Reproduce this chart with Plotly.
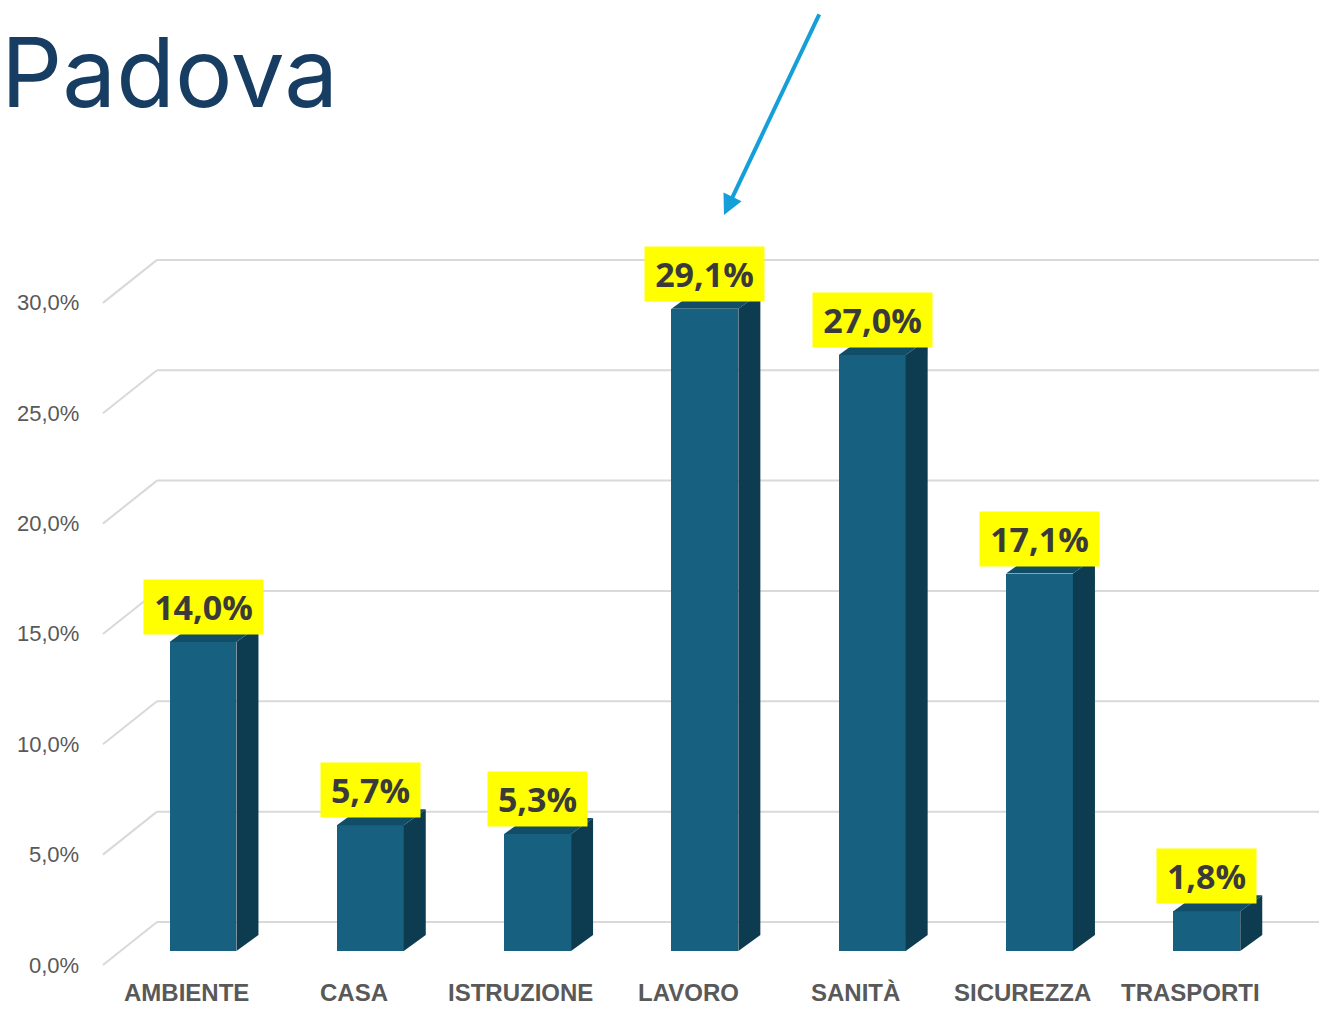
import plotly.graph_objects as go

# ---- data ----
categories = ["AMBIENTE", "CASA", "ISTRUZIONE", "LAVORO", "SANITÀ", "SICUREZZA", "TRASPORTI"]
values = [14.0, 5.7, 5.3, 29.1, 27.0, 17.1, 1.8]
value_labels = ["14,0%", "5,7%", "5,3%", "29,1%", "27,0%", "17,1%", "1,8%"]
grid_values = [0, 5, 10, 15, 20, 25, 30]
grid_labels = ["0,0%", "5,0%", "10,0%", "15,0%", "20,0%", "25,0%", "30,0%"]
title_text = "Padova"
highlight_category = "LAVORO"

# ---- style / geometry (pseudo-3D) ----
FRONT = "#17607f"
SIDE = "#0d3c50"
TOP = "#124d67"
GRID = "#d9d9d9"
TXT = "#595959"

PX_X = 167.3    # pixels per category
PX_Y = 22.07    # pixels per percent
BAR_W = 0.40    # front face width (category units)
DX = 22 / PX_X  # depth offset in x
DY = 16 / PX_Y  # depth offset in y
BACK_DY = 29 / PX_Y    # back wall offset
FRONT_DY = -14 / PX_Y  # floor front offset
DIAG_X0 = -0.598
DIAG_X1 = -0.275

x_range = [-203 / PX_X, (1319 - 203) / PX_X]
y_range = [(951 - 1009) / PX_Y, 951 / PX_Y]

fig = go.Figure()

# gridlines (back wall + diagonal side wall) as shapes below traces
for g in grid_values:
    fig.add_shape(type="line", xref="x", yref="y", layer="below",
                  x0=DIAG_X0, y0=g + FRONT_DY, x1=DIAG_X1, y1=g + BACK_DY,
                  line=dict(color=GRID, width=2))
    fig.add_shape(type="line", xref="x", yref="y", layer="below",
                  x0=DIAG_X1, y0=g + BACK_DY, x1=x_range[1], y1=g + BACK_DY,
                  line=dict(color=GRID, width=2))

idx = list(range(len(categories)))

# front faces
fig.add_trace(go.Bar(x=idx, y=values, width=BAR_W, marker=dict(color=FRONT, line=dict(width=0)),
                     hoverinfo="skip", showlegend=False))

# side and top faces
for i, v in zip(idx, values):
    xr = i + BAR_W / 2
    xl = i - BAR_W / 2
    fig.add_trace(go.Scatter(x=[xr, xr + DX, xr + DX, xr, xr], y=[0, DY, v + DY, v, 0],
                             fill="toself", fillcolor=SIDE, mode="lines", line=dict(width=0, color=SIDE),
                             hoverinfo="skip", showlegend=False))
    fig.add_trace(go.Scatter(x=[xl, xr, xr + DX, xl + DX, xl], y=[v, v, v + DY, v + DY, v],
                             fill="toself", fillcolor=TOP, mode="lines", line=dict(width=0, color=TOP),
                             hoverinfo="skip", showlegend=False))

annotations = []
# value labels
for i, v, lab in zip(idx, values, value_labels):
    annotations.append(dict(x=i, y=v + 35 / PX_Y, xref="x", yref="y", text="<b>" + lab + "</b>",
                            showarrow=False, bgcolor="#ffff00", borderpad=4,
                            width=20 * len(lab) + 11,
                            font=dict(family="Open Sans", size=34, color="#3a3a3a"),
                            xanchor="center", yanchor="middle"))
# y tick labels
for g, lab in zip(grid_values, grid_labels):
    annotations.append(dict(x=DIAG_X0, y=g + FRONT_DY, xref="x", yref="y", text=lab,
                            showarrow=False, xanchor="right", yanchor="middle", xshift=-22,
                            font=dict(family="Liberation Sans, Arial", size=22, color=TXT)))
# category labels
for i, c in zip(idx, categories):
    annotations.append(dict(x=i - 0.1, y=(951 - 1008) / PX_Y, xref="x", yref="y", text="<b>" + c + "</b>",
                            showarrow=False, xanchor="center", yanchor="bottom",
                            font=dict(family="Liberation Sans, Arial", size=24, color=TXT)))
# arrow pointing at highlighted bar
hi = categories.index(highlight_category)
annotations.append(dict(x=hi + 0.114, y=values[hi] + 4.25, xref="x", yref="y",
                        ax=96, ay=-202, axref="pixel", ayref="pixel",
                        showarrow=True, arrowhead=2, arrowsize=1.0, arrowwidth=4,
                        arrowcolor="#149fd9", text=""))
# title
annotations.append(dict(x=0, y=1, xref="paper", yref="paper", text=title_text, showarrow=False,
                        xanchor="left", yanchor="top", xshift=0, yshift=-13, borderpad=0,
                        font=dict(family="Inter", size=96, color="#173d63")))

fig.update_layout(
    width=1319, height=1009,
    margin=dict(l=0, r=0, t=0, b=0),
    paper_bgcolor="white", plot_bgcolor="white",
    xaxis=dict(range=x_range, visible=False, fixedrange=True),
    yaxis=dict(range=y_range, visible=False, fixedrange=True),
    annotations=annotations,
    bargap=0,
)

fig.write_html("out.html", config={"displayModeBar": False},
               post_script="document.body.style.margin='0';document.body.style.overflow='hidden';")
